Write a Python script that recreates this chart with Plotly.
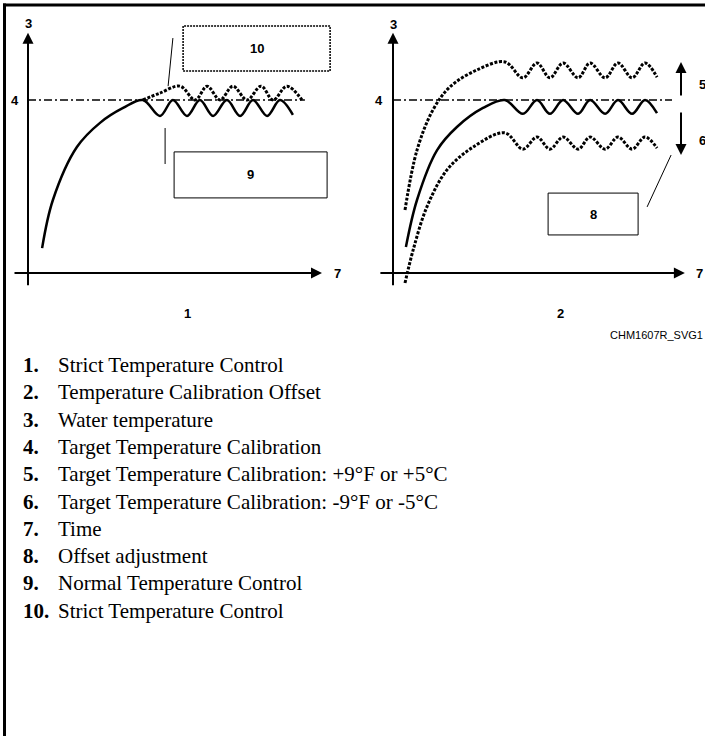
import plotly.graph_objects as go

W, H = 705, 736

# ---------------- data (time units / temperature units) ----------------
# Panel 1 : strict temperature control
p1_solid_t = [0.47, 0.83, 1.63, 2.4, 3.17, 3.83, 4.4, 4.83, 5.3, 5.73, 6.17, 6.63, 7.07, 7.5, 7.97, 8.4, 8.83]
p1_solid_T = [0.72, 2.11, 3.64, 4.34, 4.77, 5.0, 4.54, 5.0, 4.54, 5.0, 4.54, 5.0, 4.54, 5.0, 4.54, 5.0, 4.57]
p1_strict_t = [3.83, 4.4, 5.07, 5.57, 5.97, 6.4, 6.83, 7.3, 7.77, 8.17, 8.63, 9.13]
p1_strict_T = [5.0, 5.2, 5.4, 5.0, 5.4, 5.0, 5.4, 5.0, 5.4, 5.0, 5.4, 5.0]
p1_target_t = [0.0, 9.23]
p1_target_T = [5.0, 5.0]

# Panel 2 : temperature calibration offset
p2_solid_t = [0.43, 0.8, 1.47, 2.13, 3.0, 3.73, 4.33, 4.8, 5.23, 5.67, 6.17, 6.57, 7.07, 7.5, 7.97, 8.4, 8.8]
p2_solid_T = [0.75, 2.11, 3.55, 4.22, 4.77, 5.0, 4.6, 5.0, 4.6, 5.0, 4.6, 5.0, 4.6, 5.0, 4.6, 5.0, 4.62]
p2_upper_t = [0.4, 0.8, 1.33, 1.9, 2.8, 3.73, 4.33, 4.8, 5.23, 5.67, 6.17, 6.57, 7.07, 7.5, 7.97, 8.4, 8.8]
p2_upper_T = [1.82, 3.55, 4.71, 5.38, 5.87, 6.1, 5.64, 6.07, 5.64, 6.07, 5.64, 6.07, 5.64, 6.07, 5.64, 6.07, 5.66]
p2_lower_t = [0.4, 0.67, 1.13, 1.8, 2.67, 3.73, 4.33, 4.8, 5.23, 5.67, 6.17, 6.57, 7.07, 7.5, 7.97, 8.4, 8.8]
p2_lower_T = [-0.29, 0.66, 1.91, 2.98, 3.64, 4.05, 3.58, 3.93, 3.58, 3.93, 3.58, 3.93, 3.58, 3.93, 3.58, 3.93, 3.61]
p2_target_t = [0.0, 9.3]
p2_target_T = [5.0, 5.0]

# axes (start -> arrow tip) in data units
p1_yaxis = [(0, -0.4), (0, 6.94)]
p1_xaxis = [(-0.5, 0), (9.8, 0)]
p2_yaxis = [(0, -0.4), (0, 6.94)]
p2_xaxis = [(-0.47, 0), (9.73, 0)]
p2_up_arrow = [(9.6, 5.09), (9.6, 6.1)]
p2_down_arrow = [(9.6, 4.68), (9.6, 3.41)]

# callout boxes [t0, t1, T0, T1] and leader lines
box10 = [5.17, 10.07, 5.84, 7.14]
box9 = [4.87, 9.97, 2.17, 3.5]
box8 = [5.17, 8.17, 1.1, 2.31]
leader10 = [(4.83, 6.79), (4.67, 5.4)]
leader9 = [(4.57, 4.19), (4.57, 3.15)]
leader8 = [(8.47, 1.91), (9.27, 3.41)]

# axis / callout labels
p1_labels = [("3", 0, 7.2), ("4", -0.43, 5.0), ("7", 10.3, 0)]
p2_labels = [("3", 0, 7.17), ("4", -0.47, 5.0), ("7", 10.23, 0), ("5", 10.3, 5.45), ("6", 10.3, 3.84)]
box_labels = [("10", "x", "y", box10), ("9", "x", "y", box9), ("8", "x2", "y2", box8)]

panel_titles = ["1", "2"]
figure_id = "CHM1607R_SVG1"
legend_nums = ["1.", "2.", "3.", "4.", "5.", "6.", "7.", "8.", "9.", "10."]
legend_texts = [
    "Strict Temperature Control",
    "Temperature Calibration Offset",
    "Water temperature",
    "Target Temperature Calibration",
    "Target Temperature Calibration: +9°F or +5°C",
    "Target Temperature Calibration: -9°F or -5°C",
    "Time",
    "Offset adjustment",
    "Normal Temperature Control",
    "Strict Temperature Control",
]

# ---------------- figure ----------------
SANS = "Liberation Sans, Arial, sans-serif"
SERIF = "Liberation Serif, Times New Roman, serif"
DOT = "3px,1.6px"
DASHDOT = "8px,3px,2px,3px"

fig = go.Figure()

def line(x, y, xa, ya, width, dash="solid"):
    fig.add_trace(go.Scatter(x=x, y=y, xaxis=xa, yaxis=ya, mode="lines",
                             line=dict(color="black", width=width, dash=dash,
                                       shape="spline", smoothing=1.0),
                             hoverinfo="skip"))

line(p1_target_t, p1_target_T, "x", "y", 1.5, DASHDOT)
line(p1_solid_t, p1_solid_T, "x", "y", 2.5)
line(p1_strict_t, p1_strict_T, "x", "y", 3, DOT)

line(p2_target_t, p2_target_T, "x2", "y2", 1.5, DASHDOT)
line(p2_solid_t, p2_solid_T, "x2", "y2", 2.5)
line(p2_upper_t, p2_upper_T, "x2", "y2", 3, DOT)
line(p2_lower_t, p2_lower_T, "x2", "y2", 3, DOT)

ann = []

def arrow(seg, xa, ya):
    (x0, y0), (x1, y1) = seg
    ann.append(dict(x=x1, y=y1, ax=x0, ay=y0, xref=xa, yref=ya, axref=xa, ayref=ya,
                    text="", showarrow=True, arrowhead=2, arrowsize=1.1,
                    arrowwidth=2, arrowcolor="black", standoff=0, startstandoff=0))

for seg in (p1_yaxis, p1_xaxis):
    arrow(seg, "x", "y")
for seg in (p2_yaxis, p2_xaxis, p2_up_arrow, p2_down_arrow):
    arrow(seg, "x2", "y2")

for txt, tx, ty in p1_labels:
    ann.append(dict(x=tx, y=ty, xref="x", yref="y", text=f"<b>{txt}</b>", showarrow=False,
                    font=dict(family=SANS, size=13, color="black")))
for txt, tx, ty in p2_labels:
    ann.append(dict(x=tx, y=ty, xref="x2", yref="y2", text=f"<b>{txt}</b>", showarrow=False,
                    font=dict(family=SANS, size=13, color="black")))
for txt, xa, ya, b in box_labels:
    ann.append(dict(x=(b[0] + b[1]) / 2, y=(b[2] + b[3]) / 2, xref=xa, yref=ya,
                    text=f"<b>{txt}</b>", showarrow=False,
                    font=dict(family=SANS, size=13, color="black")))

shapes = []
shapes.append(dict(type="rect", xref="x", yref="y", x0=box10[0], x1=box10[1], y0=box10[2], y1=box10[3],
                   line=dict(color="black", width=1.5, dash="2px,1px")))
shapes.append(dict(type="rect", xref="x", yref="y", x0=box9[0], x1=box9[1], y0=box9[2], y1=box9[3],
                   line=dict(color="black", width=1)))
shapes.append(dict(type="rect", xref="x2", yref="y2", x0=box8[0], x1=box8[1], y0=box8[2], y1=box8[3],
                   line=dict(color="black", width=1)))
for seg, xa, ya in ((leader10, "x", "y"), (leader9, "x", "y"), (leader8, "x2", "y2")):
    (x0, y0), (x1, y1) = seg
    shapes.append(dict(type="line", xref=xa, yref=ya, x0=x0, y0=y0, x1=x1, y1=y1,
                       line=dict(color="black", width=1)))

# outer frame (left and top edges; right/bottom are cropped)
shapes.append(dict(type="line", xref="paper", yref="paper", x0=4.5 / W, x1=4.5 / W, y0=0, y1=1 - 3.5 / H,
                   line=dict(color="black", width=3)))
shapes.append(dict(type="line", xref="paper", yref="paper", x0=3 / W, x1=1, y0=1 - 5 / H, y1=1 - 5 / H,
                   line=dict(color="black", width=3)))

def px(xp, yp):
    return xp / W, 1 - yp / H

for txt, xp in zip(panel_titles, (182, 566)):
    x, y = px(xp, 314)
    ann.append(dict(x=x, y=y, xref="paper", yref="paper", text=f"<b>{txt}</b>", showarrow=False,
                    font=dict(family=SANS, size=13, color="black")))
x, y = px(705, 335)
ann.append(dict(x=x, y=y, xref="paper", yref="paper", text=figure_id, showarrow=False,
                xanchor="right", font=dict(family=SANS, size=11, color="black")))

row0, step = 365, 27.3
for i, (num, txt) in enumerate(zip(legend_nums, legend_texts)):
    yp = row0 + i * step
    x, y = px(21, yp)
    ann.append(dict(x=x, y=y, xref="paper", yref="paper", text=f"<b>{num}</b>", showarrow=False,
                    xanchor="left", yanchor="middle", font=dict(family=SERIF, size=21, color="black")))
    x, y = px(56, yp)
    ann.append(dict(x=x, y=y, xref="paper", yref="paper", text=txt, showarrow=False,
                    xanchor="left", yanchor="middle", font=dict(family=SERIF, size=21, color="black")))

ydom = [1 - 300 / H, 1]
fig.update_layout(
    width=W, height=H, margin=dict(l=0, r=0, t=0, b=0),
    paper_bgcolor="white", plot_bgcolor="white", showlegend=False,
    xaxis=dict(domain=[0, 352 / W], range=[-0.9333, 10.8], visible=False),
    yaxis=dict(domain=ydom, range=[-0.780, 7.890], visible=False, anchor="x"),
    xaxis2=dict(domain=[352 / W, 1], range=[-1.3667, 10.4], visible=False, anchor="y2"),
    yaxis2=dict(domain=ydom, range=[-0.780, 7.890], visible=False, anchor="x2"),
    annotations=ann, shapes=shapes,
)

fig.write_html("out.html", config={"displayModeBar": False},
               post_script="document.body.style.margin='0';document.body.style.overflow='hidden';")
